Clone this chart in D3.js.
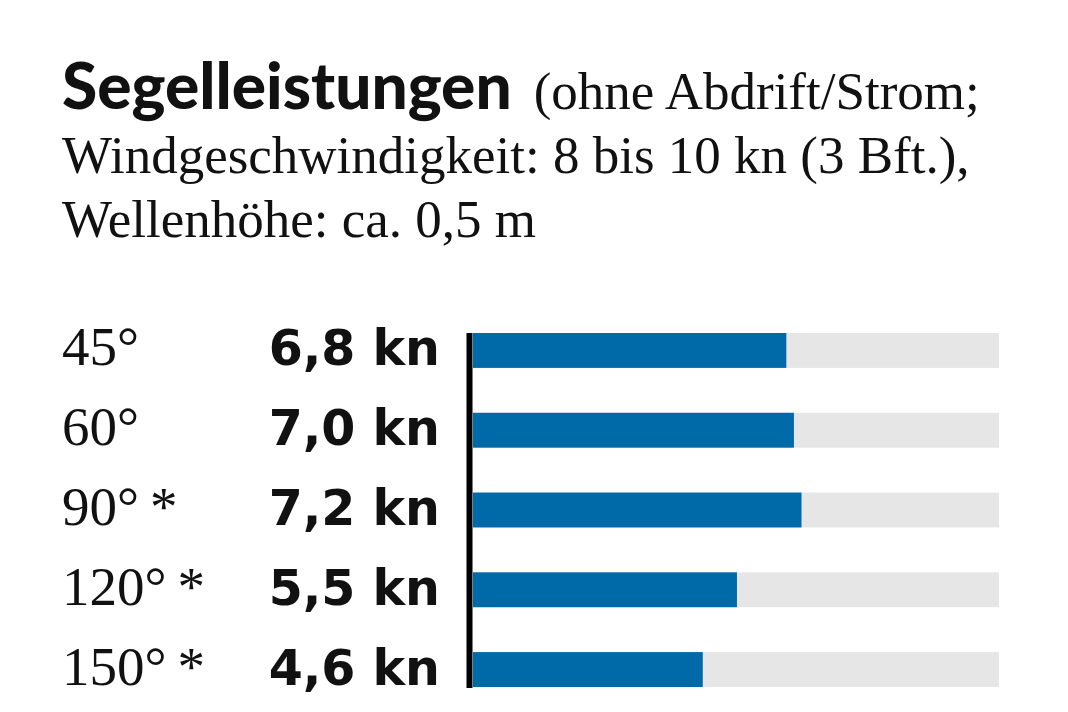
<!DOCTYPE html>
<html><head><meta charset="utf-8">
<script src="https://cdn.jsdelivr.net/npm/d3@7"></script>
<style>
html,body{margin:0;padding:0;background:#fff;}
svg{display:block;}
</style></head>
<body>
<script>
// ---- data ----
const angles = ["45°", "60°", "90°\u2009*", "120°\u2009*", "150°\u2009*"];
const speeds = [6.8, 7.0, 7.2, 5.5, 4.6];
const speedLabels = ["6,8 kn", "7,0 kn", "7,2 kn", "5,5 kn", "4,6 kn"];
const titleBold = "Segelleistungen";
const titleRest = "(ohne Abdrift/Strom;";
const subLines = ["Windgeschwindigkeit: 8 bis 10 kn (3 Bft.),", "Wellenhöhe: ca. 0,5 m"];
const xDomain = [-1.45, 12.4];

const W = 1068, H = 712;
const svg = d3.select("body").append("svg").attr("width", W).attr("height", H);

const serif = "'Liberation Serif', 'Times New Roman', serif";
const sans = "Lato, 'DejaVu Sans', sans-serif";
const ink = "#111";

// title
const t = svg.append("text").attr("x", 62).attr("y", 109)
  .attr("font-family", sans).attr("font-weight", 900).attr("font-size", 64).attr("fill", ink)
  .text(titleBold);
const tw = t.node().getComputedTextLength();
svg.append("text").attr("x", 62 + tw + 22).attr("y", 109)
  .attr("font-family", serif).attr("font-size", 53).attr("fill", ink).text(titleRest);
svg.selectAll("text.sub").data(subLines).join("text").attr("class", "sub")
  .attr("x", 62).attr("y", (d, i) => 173 + i * 64)
  .attr("font-family", serif).attr("font-size", 53).attr("fill", ink).text(d => d);

// scales
const x = d3.scaleLinear().domain(xDomain).range([473, 999]);
const y = d3.scaleBand().domain(angles).range([333, 687]).paddingInner(0.5625).paddingOuter(0);

const rows = svg.append("g").selectAll("g").data(angles).join("g");
// track
rows.append("rect").attr("x", x(xDomain[0])).attr("y", d => y(d))
  .attr("width", x(xDomain[1]) - x(xDomain[0])).attr("height", y.bandwidth()).attr("fill", "#e6e6e6");
// bar
rows.append("rect").attr("x", x(xDomain[0])).attr("y", d => y(d))
  .attr("width", (d, i) => x(speeds[i]) - x(xDomain[0])).attr("height", y.bandwidth()).attr("fill", "#0069a7");
// angle labels
rows.append("text").attr("x", 62).attr("y", d => y(d) + y.bandwidth() / 2 + 15)
  .attr("font-family", serif).attr("font-size", 55).attr("fill", ink).text(d => d);
// value labels
rows.append("text").attr("x", 440).attr("y", d => y(d) + y.bandwidth() / 2 + 15)
  .attr("text-anchor", "end")
  .attr("font-family", "'DejaVu Sans', sans-serif").attr("font-weight", "bold").attr("font-size", 49).attr("fill", ink)
  .text((d, i) => speedLabels[i]);

// axis line
svg.append("line").attr("x1", 469.5).attr("x2", 469.5).attr("y1", 333).attr("y2", 688)
  .attr("stroke", "#000").attr("stroke-width", 6);
</script>
</body></html>
